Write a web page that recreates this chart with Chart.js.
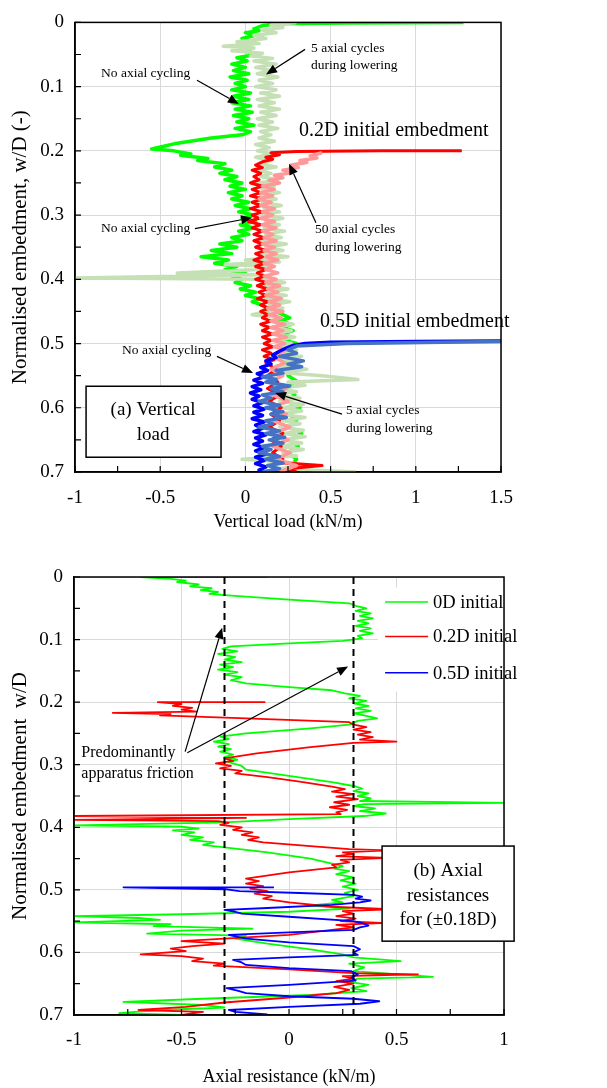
<!DOCTYPE html>
<html>
<head>
<meta charset="utf-8">
<script src="https://cdn.jsdelivr.net/npm/chart.js@4.4.0/dist/chart.umd.min.js"></script>
<style>
  html, body { margin: 0; padding: 0; background: #fff; overflow: hidden; }
  #top { position: absolute; left: 0; top: 0; }
  #bottom { position: absolute; left: 0; top: 540px; }
</style>
</head>
<body>
<canvas id="top" width="607" height="540"></canvas>
<canvas id="bottom" width="607" height="548"></canvas>
<script>
// ---- (a) vertical load traces: [load kN/m, normalised embedment w/D] ----
const vGreen = [[1.28,0],[0.6,0.001],[0.2,0.002],[0.1,0.005],[0.05,0.01],[0.08,0.013],[0,0.016],[0.06,0.02],[-0.02,0.025],[0.05,0.03],[-0.03,0.035],[0.04,0.04],[0,0.045],[0.06,0.05],[-0.05,0.055],[0.01,0.06],[-0.08,0.065],[0,0.07],[-0.07,0.075],[0.02,0.08],[-0.09,0.085],[0.01,0.09],[-0.06,0.095],[0,0.1],[-0.08,0.105],[0.03,0.11],[-0.07,0.115],[0.02,0.12],[-0.08,0.125],[0.03,0.13],[-0.06,0.135],[0.04,0.14],[-0.07,0.145],[0.02,0.15],[-0.05,0.155],[0.05,0.16],[-0.06,0.165],[0.03,0.17],[-0.02,0.175],[-0.2,0.18],[-0.4,0.188],[-0.55,0.197],[-0.42,0.2],[-0.32,0.205],[-0.38,0.207],[-0.22,0.212],[-0.28,0.215],[-0.12,0.22],[-0.18,0.225],[-0.08,0.23],[-0.15,0.235],[-0.05,0.24],[-0.12,0.245],[-0.02,0.25],[-0.09,0.255],[0,0.26],[-0.1,0.265],[-0.02,0.27],[-0.08,0.275],[0.02,0.28],[-0.06,0.285],[0.03,0.29],[-0.04,0.295],[0.05,0.3],[-0.02,0.305],[0.06,0.31],[-0.03,0.315],[0.05,0.32],[-0.04,0.325],[0.02,0.33],[-0.08,0.335],[-0.02,0.34],[-0.15,0.345],[-0.05,0.35],[-0.2,0.355],[-0.08,0.36],[-0.26,0.365],[-0.1,0.37],[-0.18,0.375],[-0.05,0.38],[-0.12,0.385],[0,0.39],[-0.08,0.395],[-0.02,0.4],[-0.06,0.405],[0.03,0.41],[-0.03,0.415],[0.06,0.42],[0,0.425],[0.08,0.43],[0.04,0.435],[0.1,0.44],[0.12,0.445],[0.18,0.45],[0.22,0.455],[0.26,0.46],[0.2,0.465],[0.27,0.47],[0.21,0.475],[0.28,0.48],[0.22,0.485],[0.27,0.49],[0.23,0.495],[0.3,0.5],[0.22,0.51],[0.28,0.52],[0.24,0.53],[0.3,0.54],[0.25,0.55],[0.31,0.56],[0.24,0.57],[0.29,0.58],[0.25,0.59],[0.32,0.6],[0.26,0.61],[0.3,0.62],[0.25,0.63],[0.33,0.64],[0.26,0.65],[0.31,0.66],[0.25,0.67],[0.3,0.68],[0.27,0.69],[0.35,0.7]];
const vPaleGreen = [[0.3,0],[0.15,0.004],[0.22,0.008],[0.1,0.012],[0.18,0.016],[0.05,0.02],[0.12,0.025],[-0.05,0.03],[0.08,0.033],[-0.13,0.037],[0.05,0.04],[-0.08,0.044],[0.1,0.048],[0.03,0.052],[0.16,0.056],[0.05,0.06],[0.18,0.065],[0.06,0.07],[0.15,0.075],[0.07,0.08],[0.19,0.085],[0.08,0.09],[0.16,0.095],[0.06,0.1],[0.18,0.105],[0.09,0.11],[0.2,0.115],[0.07,0.12],[0.17,0.125],[0.08,0.13],[0.2,0.135],[0.09,0.14],[0.18,0.145],[0.07,0.15],[0.16,0.155],[0.08,0.16],[0.19,0.165],[0.09,0.17],[0.15,0.175],[0.08,0.18],[0.17,0.185],[0.06,0.19],[0.14,0.195],[0.07,0.2],[0.16,0.205],[0.06,0.21],[0.15,0.215],[0.08,0.22],[0.18,0.225],[0.07,0.23],[0.15,0.235],[0.09,0.24],[0.19,0.245],[0.08,0.25],[0.17,0.255],[0.1,0.26],[0.2,0.265],[0.09,0.27],[0.18,0.275],[0.1,0.28],[0.21,0.285],[0.11,0.29],[0.2,0.295],[0.1,0.3],[0.22,0.305],[0.12,0.31],[0.2,0.315],[0.11,0.32],[0.23,0.325],[0.12,0.33],[0.21,0.335],[0.1,0.34],[0.24,0.345],[0.12,0.35],[0.22,0.355],[0.1,0.36],[0.25,0.365],[0,0.37],[0.2,0.373],[-0.12,0.377],[0.15,0.38],[0.05,0.385],[-0.4,0.39],[0.1,0.393],[-1,0.398],[0.15,0.4],[0.23,0.405],[0.12,0.41],[0.25,0.415],[0.13,0.42],[0.24,0.425],[0.12,0.43],[0.26,0.435],[0.14,0.44],[0.22,0.445],[0.04,0.455],[0.2,0.46],[0.14,0.465],[0.28,0.47],[0.16,0.475],[0.27,0.48],[0.15,0.485],[0.29,0.49],[0.17,0.495],[0.27,0.5],[0.2,0.505],[0.3,0.51],[0.18,0.515],[0.33,0.52],[0.2,0.525],[0.32,0.53],[0.18,0.535],[0.36,0.54],[0.2,0.545],[0.45,0.55],[0.66,0.556],[0.25,0.56],[0.35,0.565],[0.18,0.57],[0.3,0.575],[0.15,0.58],[0.32,0.585],[0.2,0.59],[0.34,0.595],[0.22,0.6],[0.33,0.605],[0.2,0.61],[0.35,0.615],[0.22,0.62],[0.32,0.625],[0.2,0.63],[0.34,0.635],[0.23,0.64],[0.35,0.645],[0.22,0.65],[0.33,0.655],[0.2,0.66],[0.34,0.665],[0.22,0.67],[0.3,0.675],[-0.02,0.68],[0.25,0.685],[0.35,0.69],[0.2,0.695],[0.65,0.7]];
const vRed = [[1.27,0.2],[0.8,0.2],[0.3,0.201],[0.15,0.203],[0.2,0.206],[0.12,0.21],[0.16,0.213],[0.1,0.217],[0.06,0.222],[0.1,0.226],[0.04,0.23],[0.09,0.235],[0.05,0.24],[0.08,0.245],[0.03,0.25],[0.1,0.255],[0.04,0.26],[0.09,0.265],[0.03,0.27],[0.1,0.275],[0.04,0.28],[0.09,0.285],[0.03,0.29],[0.1,0.295],[0.04,0.3],[0.08,0.305],[0.02,0.31],[0.09,0.315],[0.04,0.32],[0.1,0.325],[0.05,0.33],[0.11,0.335],[0.05,0.34],[0.1,0.345],[0.06,0.35],[0.12,0.355],[0.06,0.36],[0.1,0.365],[0.05,0.37],[0.11,0.375],[0.06,0.38],[0.12,0.385],[0.07,0.39],[0.11,0.395],[0.06,0.4],[0.12,0.405],[0.07,0.41],[0.13,0.415],[0.08,0.42],[0.12,0.425],[0.07,0.43],[0.13,0.435],[0.09,0.44],[0.14,0.445],[0.09,0.45],[0.13,0.455],[0.1,0.46],[0.15,0.465],[0.09,0.47],[0.14,0.475],[0.1,0.48],[0.16,0.485],[0.1,0.49],[0.15,0.495],[0.11,0.5],[0.16,0.505],[0.1,0.51],[0.15,0.515],[0.11,0.52],[0.17,0.525],[0.12,0.53],[0.18,0.54],[0.13,0.55],[0.19,0.56],[0.13,0.57],[0.2,0.58],[0.14,0.59],[0.21,0.6],[0.15,0.61],[0.2,0.62],[0.14,0.63],[0.22,0.64],[0.15,0.65],[0.21,0.66],[0.16,0.67],[0.22,0.68],[0.17,0.685],[0.45,0.69],[0.25,0.695],[0.3,0.7]];
const vPink = [[0.45,0.203],[0.38,0.208],[0.42,0.211],[0.32,0.215],[0.36,0.218],[0.27,0.222],[0.31,0.226],[0.22,0.23],[0.27,0.234],[0.17,0.238],[0.22,0.242],[0.14,0.246],[0.2,0.25],[0.1,0.255],[0.17,0.26],[0.09,0.265],[0.16,0.27],[0.08,0.275],[0.15,0.28],[0.09,0.285],[0.17,0.29],[0.1,0.295],[0.16,0.3],[0.09,0.305],[0.17,0.31],[0.1,0.315],[0.18,0.32],[0.1,0.325],[0.16,0.33],[0.11,0.335],[0.18,0.34],[0.1,0.345],[0.17,0.35],[0.11,0.355],[0.18,0.36],[0.12,0.365],[0.19,0.37],[0.11,0.375],[0.17,0.38],[0.12,0.385],[0.19,0.39],[0.11,0.395],[0.18,0.4],[0.12,0.405],[0.2,0.41],[0.13,0.415],[0.19,0.42],[0.12,0.425],[0.21,0.43],[0.14,0.435],[0.2,0.44],[0.13,0.445],[0.22,0.45],[0.14,0.455],[0.21,0.46],[0.15,0.465],[0.23,0.47],[0.15,0.475],[0.22,0.48],[0.16,0.485],[0.24,0.49],[0.16,0.495],[0.23,0.5],[0.17,0.505],[0.24,0.51],[0.16,0.52],[0.23,0.53],[0.15,0.54],[0.22,0.55],[0.14,0.56],[0.24,0.57],[0.16,0.58],[0.25,0.59],[0.15,0.6],[0.24,0.61],[0.16,0.62],[0.26,0.63],[0.17,0.64],[0.25,0.65],[0.16,0.66],[0.26,0.67],[0.18,0.68],[0.3,0.69],[0.2,0.7]];
const vBlue = [[1.5,0.496],[1,0.497],[0.5,0.498],[0.35,0.5],[0.28,0.503],[0.24,0.507],[0.2,0.512],[0.16,0.518],[0.18,0.522],[0.12,0.527],[0.15,0.532],[0.09,0.537],[0.13,0.542],[0.07,0.547],[0.11,0.552],[0.05,0.557],[0.1,0.562],[0.04,0.567],[0.09,0.572],[0.03,0.577],[0.08,0.582],[0.04,0.587],[0.1,0.592],[0.05,0.597],[0.11,0.602],[0.05,0.607],[0.1,0.612],[0.04,0.617],[0.11,0.622],[0.06,0.627],[0.1,0.632],[0.05,0.637],[0.12,0.642],[0.06,0.647],[0.1,0.652],[0.05,0.657],[0.11,0.662],[0.06,0.667],[0.12,0.672],[0.06,0.677],[0.11,0.682],[0.06,0.687],[0.12,0.692],[0.08,0.697],[0.14,0.7]];
const vMidBlue = [[1.5,0.497],[0.6,0.5],[0.3,0.504],[0.25,0.51],[0.3,0.515],[0.2,0.52],[0.34,0.527],[0.25,0.532],[0.33,0.536],[0.18,0.542],[0.22,0.546],[0.1,0.552],[0.18,0.556],[0.12,0.56],[0.26,0.566],[0.15,0.57],[0.22,0.575],[0.1,0.58],[0.15,0.585],[0.08,0.59],[0.2,0.596],[0.12,0.6],[0.22,0.606],[0.15,0.61],[0.24,0.615],[0.12,0.62],[0.16,0.625],[0.08,0.63],[0.2,0.636],[0.12,0.64],[0.23,0.646],[0.14,0.65],[0.22,0.655],[0.1,0.66],[0.15,0.665],[0.08,0.67],[0.2,0.676],[0.12,0.68],[0.22,0.686],[0.13,0.69],[0.2,0.695],[0.1,0.7]];

// ---- (b) axial resistance traces: [resistance kN/m, w/D] ----
const aGreen = [[-0.1,0],[-0.69,0],[-0.55,0.003],[-0.48,0.006],[-0.52,0.008],[-0.42,0.012],[-0.46,0.015],[-0.36,0.018],[-0.41,0.021],[-0.33,0.024],[-0.37,0.027],[-0.3,0.029],[0,0.036],[0.28,0.042],[0.31,0.046],[0.36,0.05],[0.31,0.054],[0.38,0.058],[0.33,0.062],[0.39,0.066],[0.32,0.07],[0.37,0.074],[0.31,0.078],[0.38,0.082],[0.33,0.086],[0.39,0.09],[0.32,0.094],[0.34,0.098],[0.25,0.102],[0,0.106],[-0.27,0.111],[-0.31,0.115],[-0.24,0.119],[-0.33,0.123],[-0.25,0.128],[-0.3,0.132],[-0.22,0.136],[-0.32,0.14],[-0.26,0.144],[-0.33,0.148],[-0.24,0.152],[-0.3,0.156],[-0.22,0.16],[-0.27,0.165],[-0.2,0.17],[0,0.176],[0.2,0.181],[0.26,0.186],[0.33,0.19],[0.28,0.194],[0.36,0.198],[0.3,0.202],[0.37,0.206],[0.31,0.21],[0.38,0.214],[0.3,0.218],[0.36,0.222],[0.41,0.226],[0.32,0.23],[0.28,0.236],[0.1,0.242],[-0.2,0.25],[-0.32,0.255],[-0.28,0.259],[-0.35,0.263],[-0.28,0.267],[-0.33,0.271],[-0.27,0.275],[-0.32,0.279],[-0.26,0.284],[-0.3,0.288],[-0.24,0.292],[-0.28,0.296],[-0.22,0.302],[-0.2,0.308],[0,0.318],[0.2,0.328],[0.3,0.334],[0.34,0.338],[0.3,0.342],[0.37,0.346],[0.32,0.35],[0.38,0.354],[0.33,0.358],[1,0.361],[0.35,0.363],[0.3,0.366],[0.4,0.37],[0.33,0.374],[0.45,0.378],[0.35,0.382],[0,0.387],[-0.3,0.392],[-1,0.397],[-0.5,0.399],[-0.42,0.402],[-0.54,0.405],[-0.44,0.408],[-0.5,0.412],[-0.4,0.416],[-0.46,0.42],[-0.35,0.424],[-0.4,0.428],[-0.3,0.432],[-0.1,0.44],[0.1,0.45],[0.2,0.458],[0.25,0.462],[0.21,0.466],[0.28,0.47],[0.22,0.475],[0.3,0.48],[0.24,0.485],[0.31,0.49],[0.25,0.495],[0.32,0.5],[0.26,0.505],[0.3,0.51],[0.2,0.516],[0.25,0.52],[0.1,0.525],[0.28,0.53],[0,0.535],[-0.5,0.539],[-1,0.542],[-0.7,0.545],[-0.6,0.548],[-1,0.552],[-0.55,0.555],[-0.63,0.558],[-0.17,0.562],[-0.5,0.565],[-0.66,0.57],[-0.2,0.573],[-0.25,0.578],[-0.1,0.586],[0.1,0.595],[0.25,0.603],[0.3,0.608],[0.52,0.614],[0.28,0.618],[0.35,0.624],[0.3,0.63],[0.67,0.639],[0.32,0.642],[0.28,0.647],[0.37,0.652],[0.29,0.657],[0.36,0.662],[0.1,0.668],[-0.4,0.674],[-0.77,0.679],[-0.4,0.684],[-0.3,0.688],[-0.6,0.692],[-0.79,0.697],[-0.5,0.7]];
const aRed = [[-0.11,0.2],[-0.61,0.2],[-0.5,0.203],[-0.54,0.206],[-0.45,0.209],[-0.5,0.212],[-0.43,0.215],[-0.82,0.217],[-0.55,0.219],[-0.6,0.221],[-0.2,0.226],[0.28,0.232],[0.3,0.236],[0.36,0.24],[0.3,0.244],[0.38,0.248],[0.32,0.252],[0.39,0.256],[0.33,0.26],[0.5,0.263],[0.3,0.265],[0.1,0.272],[-0.15,0.282],[-0.3,0.29],[-0.26,0.294],[-0.34,0.298],[-0.27,0.302],[-0.32,0.306],[-0.22,0.31],[-0.25,0.314],[-0.1,0.32],[0.05,0.327],[0.2,0.335],[0.26,0.339],[0.2,0.343],[0.3,0.347],[0.22,0.351],[0.32,0.355],[0.21,0.36],[0.28,0.364],[0.19,0.368],[0.27,0.372],[0.22,0.376],[0.24,0.379],[-1,0.382],[-0.2,0.385],[-1,0.388],[-0.33,0.39],[-0.28,0.393],[-0.32,0.396],[-0.22,0.4],[-0.26,0.404],[-0.17,0.408],[-0.22,0.412],[-0.14,0.416],[-0.19,0.42],[-0.12,0.424],[0.1,0.43],[0.28,0.435],[0.46,0.437],[0.25,0.44],[0.3,0.443],[0.22,0.446],[0.46,0.449],[0.24,0.452],[0.28,0.456],[0.2,0.46],[0.22,0.464],[0,0.472],[-0.2,0.482],[-0.14,0.486],[-0.2,0.49],[-0.12,0.494],[-0.18,0.498],[-0.1,0.502],[-0.16,0.506],[-0.08,0.51],[-0.12,0.514],[0,0.52],[0.2,0.527],[0.47,0.531],[0.25,0.534],[0.3,0.538],[0.22,0.542],[0.31,0.546],[0.24,0.55],[0.43,0.553],[0.22,0.556],[0.3,0.56],[0.2,0.564],[0,0.572],[-0.3,0.578],[-0.5,0.582],[-0.3,0.586],[-0.45,0.59],[-0.55,0.594],[-0.48,0.598],[-0.69,0.603],[-0.5,0.606],[-0.4,0.61],[-0.45,0.614],[-0.3,0.618],[-0.35,0.621],[0,0.627],[0.3,0.633],[0.6,0.635],[0.25,0.638],[0.3,0.642],[0.22,0.646],[0.3,0.65],[0.21,0.655],[0.28,0.66],[0.22,0.665],[0,0.672],[-0.3,0.68],[-0.48,0.687],[-0.7,0.692],[-0.4,0.695],[-0.5,0.7]];
const aBlue = [[-0.07,0.496],[-0.77,0.496],[-0.3,0.499],[-0.23,0.502],[0.05,0.505],[0.3,0.508],[0.34,0.511],[0.31,0.514],[0.38,0.517],[0.33,0.52],[0.2,0.524],[-0.1,0.529],[-0.3,0.532],[-0.25,0.535],[-0.22,0.538],[0,0.543],[0.3,0.55],[0.34,0.553],[0.37,0.557],[0.33,0.56],[0.3,0.564],[0,0.568],[-0.28,0.572],[-0.24,0.575],[-0.2,0.578],[0,0.584],[0.3,0.59],[0.33,0.595],[0.3,0.6],[0.32,0.604],[0,0.608],[-0.26,0.612],[-0.22,0.616],[-0.2,0.62],[0,0.625],[0.29,0.63],[0.32,0.635],[0.29,0.64],[0.31,0.645],[0,0.652],[-0.29,0.657],[-0.24,0.661],[-0.2,0.665],[0,0.67],[0.3,0.674],[0.42,0.678],[0.33,0.682],[0,0.687],[-0.28,0.692],[-0.25,0.695],[-0.1,0.699]];
const frictionLoad = [-0.3, 0.3];
const frictionDepth = [0, 0.7];

const SERIF = '"Liberation Serif", "Times New Roman", serif';
Chart.defaults.font.family = SERIF;
Chart.defaults.color = '#000';

function trace(label, pts, color, width) {
  return {
    label: label,
    data: pts.map(p => ({ x: p[0], y: p[1] })),
    borderColor: color, backgroundColor: color, borderWidth: width,
    borderJoinStyle: 'round', showLine: true, pointRadius: 0, tension: 0
  };
}

const tickText = v => String(Number(v.toFixed(2)));

function axes(xMin, xMax, xTitle, yTitle, p) {
  return {
    x: {
      type: 'linear', min: xMin, max: xMax,
      ticks: { stepSize: 0.5, padding: p.xTick, font: { size: 19 }, callback: tickText },
      grid: { color: '#D9D9D9', drawTicks: false },
      border: { color: '#000', width: 1.5 },
      title: { display: true, text: xTitle, font: { size: 18 }, padding: { top: 0, bottom: p.xTitle } },
      afterFit(s) { s.height = p.xHeight; }
    },
    y: {
      type: 'linear', min: 0, max: 0.7, reverse: true,
      ticks: { stepSize: 0.1, padding: 11, font: { size: 19 }, callback: tickText },
      grid: { color: '#D9D9D9', drawTicks: false },
      border: { color: '#000', width: 1.5 },
      title: { display: true, text: yTitle, font: { size: 21 }, padding: { top: 8, bottom: 0 } },
      afterFit(s) { s.width = p.yWidth; }
    }
  };
}

// frame, inner tick marks and the notes drawn over the plot
function notesPlugin(notes) {
  return {
    id: 'notes',
    afterDraw(chart) {
      const { ctx, chartArea: a, scales: { x, y } } = chart;
      const X = v => x.getPixelForValue(v), Y = v => y.getPixelForValue(v);
      ctx.save();
      ctx.strokeStyle = '#000';
      ctx.lineWidth = 1.5;
      ctx.strokeRect(a.left, a.top, a.right - a.left, a.bottom - a.top);
      ctx.lineWidth = 1.2;
      ctx.beginPath();
      for (let i = 0; i <= 14; i++) {
        const py = Y(i * 0.05);
        ctx.moveTo(a.left, py); ctx.lineTo(a.left + 6, py);
      }
      for (let v = x.min; v <= x.max + 1e-9; v += 0.25) {
        ctx.moveTo(X(v), a.bottom); ctx.lineTo(X(v), a.bottom - 6);
      }
      ctx.stroke();

      if (notes.legend) {
        const L = notes.legend;
        ctx.fillStyle = '#fff';
        ctx.fillRect(X(L.x0), Y(L.y0), X(L.x1) - X(L.x0) - 1, Y(L.y1) - Y(L.y0));
        ctx.font = L.size + 'px ' + SERIF;
        ctx.textAlign = 'left';
        ctx.textBaseline = 'middle';
        L.items.forEach((idx, k) => {
          const ds = chart.data.datasets[idx];
          ctx.strokeStyle = ds.borderColor;
          ctx.lineWidth = 1.5;
          ctx.beginPath();
          ctx.moveTo(X(L.lineX[0]), Y(L.ys[k])); ctx.lineTo(X(L.lineX[1]), Y(L.ys[k]));
          ctx.stroke();
          ctx.fillStyle = '#000';
          ctx.fillText(ds.label, X(L.textX), Y(L.ys[k]) + 1);
        });
      }

      if (notes.box) {
        const B = notes.box;
        ctx.fillStyle = '#fff';
        ctx.fillRect(X(B.x0), Y(B.y0), X(B.x1) - X(B.x0), Y(B.y1) - Y(B.y0));
        ctx.strokeStyle = '#000';
        ctx.lineWidth = 1.5;
        ctx.strokeRect(X(B.x0), Y(B.y0), X(B.x1) - X(B.x0), Y(B.y1) - Y(B.y0));
        ctx.fillStyle = '#000';
        ctx.font = B.size + 'px ' + SERIF;
        ctx.textAlign = 'center';
        ctx.textBaseline = 'middle';
        B.lines.forEach((t, k) => ctx.fillText(t, X(B.cx), Y(B.ys[k])));
      }

      ctx.fillStyle = '#000';
      ctx.textAlign = 'left';
      ctx.textBaseline = 'middle';
      notes.texts.forEach(t => {
        ctx.font = t.s + 'px ' + SERIF;
        ctx.fillText(t.t, X(t.x), Y(t.y));
      });

      ctx.strokeStyle = '#000';
      ctx.lineWidth = 1.2;
      notes.arrows.forEach(r => {
        const x1 = X(r[0]), y1 = Y(r[1]), x2 = X(r[2]), y2 = Y(r[3]);
        const ang = Math.atan2(y2 - y1, x2 - x1);
        const hl = 11, hw = 4.5;
        const bx = x2 - hl * Math.cos(ang), by = y2 - hl * Math.sin(ang);
        ctx.beginPath();
        ctx.moveTo(x1, y1); ctx.lineTo(bx, by);
        ctx.stroke();
        ctx.beginPath();
        ctx.moveTo(x2, y2);
        ctx.lineTo(bx + hw * Math.sin(ang), by - hw * Math.cos(ang));
        ctx.lineTo(bx - hw * Math.sin(ang), by + hw * Math.cos(ang));
        ctx.closePath();
        ctx.fill();
      });
      ctx.restore();
    }
  };
}

// ---- (a) Vertical load ----
new Chart(document.getElementById('top'), {
  type: 'scatter',
  data: {
    datasets: [
      trace('0.5D, 5 axial cycles', vMidBlue, '#4472C4', 3.5),
      trace('0.5D, no axial cycling', vBlue, '#0000FF', 3.5),
      trace('0.2D, 50 axial cycles', vPink, '#FF9999', 3.5),
      trace('0.2D, no axial cycling', vRed, '#FF0000', 3),
      trace('0D, 5 axial cycles', vPaleGreen, '#C5E0B4', 3.5),
      trace('0D, no axial cycling', vGreen, '#00FF00', 3.5)
    ]
  },
  options: {
    responsive: false, animation: false,
    layout: { padding: { left: 0, right: 106, top: 21, bottom: 0 } },
    plugins: { legend: { display: false }, tooltip: { enabled: false } },
    scales: axes(-1, 1.5, 'Vertical load (kN/m)', 'Normalised embedment, w/D (-)',
      { xTick: 15, xTitle: 7, xHeight: 68, yWidth: 75 })
  },
  plugins: [notesPlugin({
    texts: [
      { t: '5 axial cycles', x: 0.385, y: 0.040, s: 13.5 },
      { t: 'during lowering', x: 0.385, y: 0.067, s: 13.5 },
      { t: 'No axial cycling', x: -0.847, y: 0.079, s: 13.5 },
      { t: '0.2D initial embedment', x: 0.315, y: 0.169, s: 20 },
      { t: 'No axial cycling', x: -0.847, y: 0.321, s: 13.5 },
      { t: '50 axial cycles', x: 0.408, y: 0.323, s: 13.5 },
      { t: 'during lowering', x: 0.408, y: 0.351, s: 13.5 },
      { t: '0.5D initial embedment', x: 0.438, y: 0.466, s: 20 },
      { t: 'No axial cycling', x: -0.724, y: 0.511, s: 13.5 },
      { t: '5 axial cycles', x: 0.59, y: 0.604, s: 13.5 },
      { t: 'during lowering', x: 0.59, y: 0.632, s: 13.5 }
    ],
    arrows: [
      [0.35, 0.042, 0.121, 0.081],
      [-0.284, 0.09, -0.038, 0.127],
      [-0.296, 0.321, 0.039, 0.304],
      [0.414, 0.312, 0.256, 0.22],
      [-0.167, 0.52, 0.045, 0.546],
      [0.567, 0.61, 0.174, 0.577]
    ],
    box: { x0: -0.935, x1: -0.143, y0: 0.5665, y1: 0.677, cx: -0.542, ys: [0.604, 0.643],
           lines: ['(a) Vertical', 'load'], size: 19 }
  })]
});

// ---- (b) Axial resistance ----
const dash = (v) => ({
  data: frictionDepth.map(d => ({ x: v, y: d })),
  borderColor: '#000', borderWidth: 2, borderDash: [7, 5],
  showLine: true, pointRadius: 0, order: 0
});
new Chart(document.getElementById('bottom'), {
  type: 'scatter',
  data: {
    datasets: [
      Object.assign(trace('0D initial', aGreen, '#00FF00', 1.8), { order: 3 }),
      Object.assign(trace('0.2D initial', aRed, '#FF0000', 1.8), { order: 2 }),
      Object.assign(trace('0.5D initial', aBlue, '#0000FF', 1.8), { order: 1 }),
      dash(frictionLoad[0]),
      dash(frictionLoad[1])
    ]
  },
  options: {
    responsive: false, animation: false,
    layout: { padding: { left: 0, right: 103, top: 37, bottom: 0 } },
    plugins: { legend: { display: false }, tooltip: { enabled: false } },
    scales: axes(-1, 1, 'Axial resistance (kN/m)', 'Normalised embedment  w/D',
      { xTick: 14, xTitle: 0, xHeight: 73, yWidth: 74 })
  },
  plugins: [notesPlugin({
    texts: [
      { t: 'Predominantly', x: -0.966, y: 0.281, s: 16 },
      { t: 'apparatus friction', x: -0.966, y: 0.315, s: 16 }
    ],
    arrows: [
      [-0.483, 0.279, -0.311, 0.081],
      [-0.473, 0.281, 0.275, 0.143]
    ],
    legend: { x0: 0.414, x1: 1.0, y0: 0.017, y1: 0.183, lineX: [0.447, 0.647], textX: 0.67,
              ys: [0.04, 0.095, 0.153], items: [0, 1, 2], size: 18.5 },
    box: { x0: 0.433, x1: 1.047, y0: 0.43, y1: 0.582, cx: 0.74, ys: [0.47, 0.51, 0.548],
           lines: ['(b) Axial', 'resistances', 'for (\u00b10.18D)'], size: 19 }
  })]
});
</script>
</body>
</html>
